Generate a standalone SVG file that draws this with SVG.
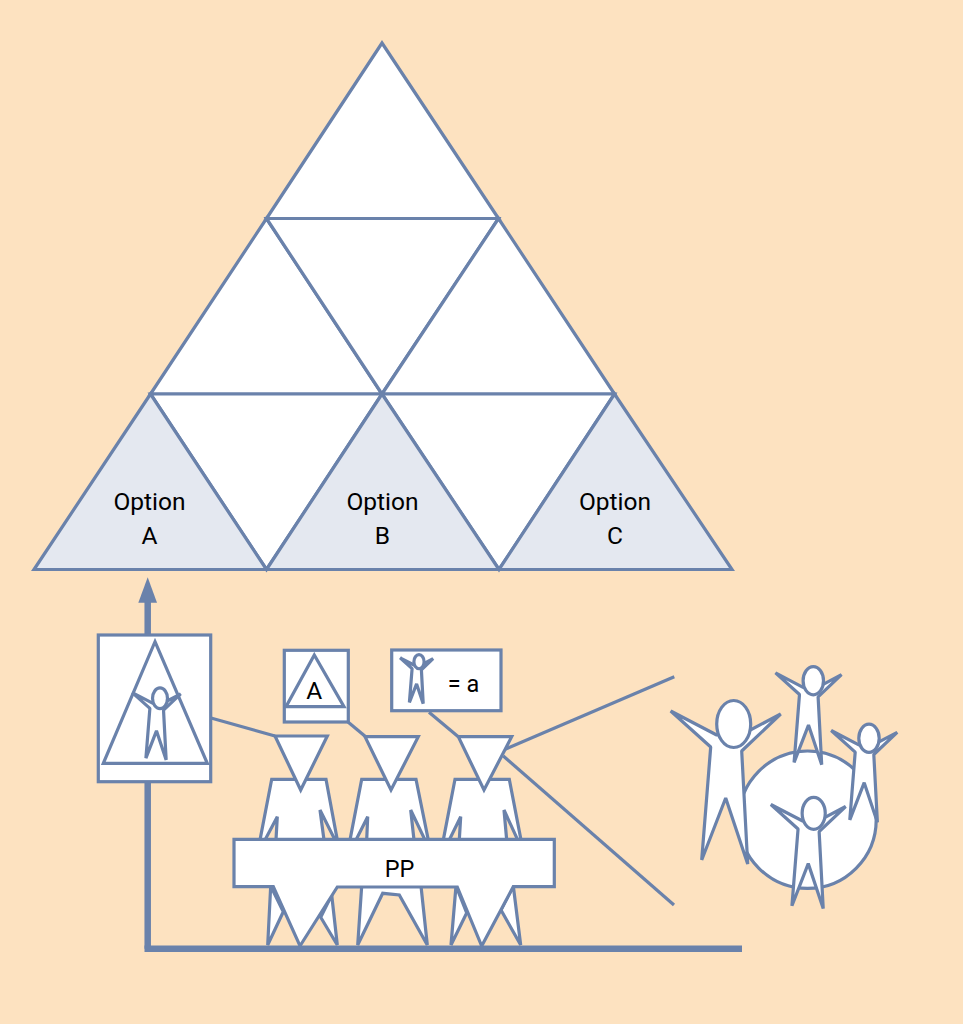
<svg xmlns="http://www.w3.org/2000/svg" xmlns:xlink="http://www.w3.org/1999/xlink" width="963" height="1024" viewBox="0 0 963 1024">
<style>
.s{fill:#fff;stroke:#6a82ab;stroke-width:3.2;stroke-linejoin:miter;stroke-miterlimit:4}
.o{fill:#e4e8f0}
.l{fill:none;stroke:#6a82ab;stroke-width:3.2}
.a{fill:none;stroke:#6a82ab;stroke-width:6.5}
.n{vector-effect:non-scaling-stroke;stroke-linejoin:bevel}
text{font-family:Roboto,"Liberation Sans",sans-serif;font-size:24.5px;fill:#000;text-anchor:middle}
</style>
<defs>
<g id="person">
<polygon class="s n" points="-63,-13 -17,11 11,9 47,-10 8,27 14,140 -8,74 -32,136 -23,23"/>
<ellipse class="s n" cx="0" cy="0" rx="17" ry="23.5"/>
</g>
</defs>
<rect width="963" height="1024" fill="#fde2c0"/>
<g id="pyramid">
<polygon class="s" points="382,43 498.5,218.5 266.5,218.5"/>
<polygon class="s" points="266.5,218.5 382,394 150.5,394"/>
<polygon class="s" points="266.5,218.5 498.5,218.5 382,394"/>
<polygon class="s" points="498.5,218.5 614.5,394 382,394"/>
<polygon class="s" points="150.5,394 382,394 266.5,569.5"/>
<polygon class="s" points="382,394 614.5,394 499,569.5"/>
</g>
<g id="option-a"><polygon class="s o" points="150.5,394 266.5,569.5 34,569.5"/><text x="149.5" y="510">Option</text><text x="149.5" y="544">A</text></g>
<g id="option-b"><polygon class="s o" points="382,394 499,569.5 266.5,569.5"/><text x="382.5" y="510">Option</text><text x="382.5" y="544">B</text></g>
<g id="option-c"><polygon class="s o" points="614.5,394 732,569.5 499,569.5"/><text x="615" y="510">Option</text><text x="615" y="544">C</text></g>
<g id="connectors">
<line class="a" x1="147.7" y1="600" x2="147.7" y2="948.7"/>
<polygon points="147.7,577.3 157,602.7 138.3,602.7" fill="#6a82ab"/>
<line class="a" x1="144.5" y1="948.7" x2="742" y2="948.7"/>
<line class="l" x1="211" y1="718" x2="275" y2="736"/>
<line class="l" x1="348" y1="722" x2="366" y2="737"/>
<line class="l" x1="429" y1="712.3" x2="458.3" y2="736.7"/>
<line class="l" x1="505" y1="749.3" x2="674.3" y2="676.7"/>
<line class="l" x1="503.3" y1="756" x2="674" y2="905"/>
</g>
<g id="legend-option">
<rect class="s" x="98.3" y="635" width="112.4" height="146.7"/>
<polygon class="s" style="fill:none" points="155,641.7 207.3,763.3 103.3,763.3"/>
<use xlink:href="#person" href="#person" transform="translate(160,698.3) scale(.44)"/>
</g>
<g id="legend-a">
<rect class="s" x="284.3" y="650.3" width="64" height="71.7"/>
<polygon class="s" points="314.3,655 344,706.7 286,706.7"/>
<text x="314.3" y="699">A</text>
</g>
<g id="legend-eq">
<rect class="s" x="391.7" y="650" width="109.3" height="60.7"/>
<use xlink:href="#person" href="#person" transform="translate(419,661.7) scale(.3)"/>
<text x="463.5" y="691.7" style="font-size:23.5px">= a</text>
</g>
<g id="person-1">
<polygon class="s" points="271.7,779.3 326,779.3 337.3,840 335,840 320,810 324,840 276,840 277.3,816.7 265,840 260,840"/>
<polygon class="s" points="270.7,886 267.7,945 283.3,911.7"/>
<polygon class="s" points="331.7,895 337.3,945 320.7,917.3"/>
<polygon class="s" points="275,736 327.3,736 300.7,790"/>
</g>
<g id="person-2">
<polygon class="s" points="361.7,779.3 416,779.3 428.3,840 425,840 410.7,810 414,840 366.7,840 367.7,816.7 356,840 350,840"/>
<polygon class="s" points="361.7,886 357.7,945 382.7,893.3 399.3,895 427.3,945 421,886"/>
<polygon class="s" points="365,736.7 418.3,736.7 391,790"/>
</g>
<g id="person-3">
<polygon class="s" points="455,779.3 509.3,779.3 521,840 517.7,840 504,810 506.7,840 459.3,840 460.7,816.7 449.3,840 443.3,840"/>
<polygon class="s" points="456,886 451,945 466.7,913"/>
<polygon class="s" points="513.3,886 520.7,945 501,910"/>
<polygon class="s" points="458.3,736.7 511.7,736.7 484,790"/>
</g>
<g id="table-pp">
<polygon class="s" points="234,839.3 554.3,839.3 554.3,886.7 513.3,886.7 481.7,946 457.3,887 337.3,887 300,946 273.3,886.7 234,886.7"/>
<text x="399.5" y="877" style="font-size:23.5px">PP</text>
</g>
<g id="group">
<circle class="s" cx="807.5" cy="819.7" r="68.7"/>
<use xlink:href="#person" href="#person" transform="translate(733.7,724)"/>
<use xlink:href="#person" href="#person" transform="translate(813.3,680.7) scale(.6)"/>
<use xlink:href="#person" href="#person" transform="translate(869,738.3) scale(.6)"/>
<use xlink:href="#person" href="#person" transform="translate(813.7,813.3) scale(.68)"/>
</g>
</svg>
